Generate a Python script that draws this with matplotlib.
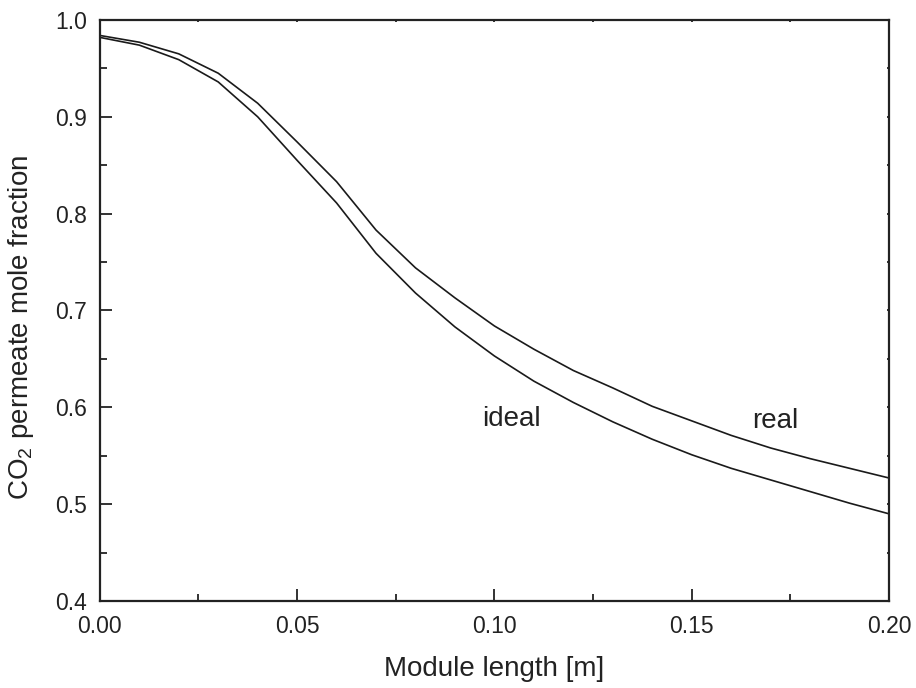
import numpy as np
import matplotlib
matplotlib.use('Agg')
import matplotlib.pyplot as plt
from matplotlib.ticker import MultipleLocator, FormatStrFormatter

plt.rcParams['font.family'] = ['Liberation Sans', 'DejaVu Sans']
plt.rcParams['mathtext.fontset'] = 'custom'
plt.rcParams['mathtext.rm'] = 'Liberation Sans'
plt.rcParams['mathtext.it'] = 'Liberation Sans:italic'

# module length [m]
length = [0.00, 0.01, 0.02, 0.03, 0.04, 0.05, 0.06, 0.07, 0.08, 0.09, 0.10,
          0.11, 0.12, 0.13, 0.14, 0.15, 0.16, 0.17, 0.18, 0.19, 0.20]
# CO2 permeate mole fraction
real = [0.984, 0.977, 0.965, 0.945, 0.914, 0.874, 0.833, 0.783, 0.744, 0.713, 0.684,
        0.660, 0.638, 0.620, 0.601, 0.586, 0.571, 0.558, 0.547, 0.537, 0.527]
ideal = [0.982, 0.974, 0.959, 0.936, 0.900, 0.855, 0.811, 0.759, 0.718, 0.683, 0.653,
         0.627, 0.605, 0.585, 0.567, 0.551, 0.537, 0.525, 0.513, 0.501, 0.490]

fig = plt.figure(figsize=(9.16, 6.88), dpi=100)
ax = fig.add_axes([0.109, 0.1265, 0.8615, 0.8445])

ax.plot(length, real, color='#1a1a1a', lw=1.2)
ax.plot(length, ideal, color='#1a1a1a', lw=1.2)

ax.text(0.0969, 0.581, 'ideal', fontsize=20, ha='left', va='baseline', color='#222222')
ax.text(0.1654, 0.579, 'real', fontsize=20, ha='left', va='baseline', color='#222222')

ax.set_xlim(0, 0.20)
ax.set_ylim(0.4, 1.0)
ax.xaxis.set_major_locator(MultipleLocator(0.05))
ax.xaxis.set_minor_locator(MultipleLocator(0.025))
ax.yaxis.set_major_locator(MultipleLocator(0.1))
ax.yaxis.set_minor_locator(MultipleLocator(0.05))
ax.xaxis.set_major_formatter(FormatStrFormatter('%.2f'))
ax.yaxis.set_major_formatter(FormatStrFormatter('%.1f'))

ax.tick_params(which='major', direction='in', length=8.5, width=1.3,
               labelsize=16.5, colors='#222222')
ax.tick_params(which='minor', direction='in', length=5, width=1.3, colors='#222222')
ax.tick_params(axis='x', which='major', pad=10)
ax.tick_params(axis='y', which='major', pad=9)
ax.tick_params(which='both', top=True, right=True)
for t in ax.xaxis.get_major_ticks() + ax.xaxis.get_minor_ticks():
    t.tick2line.set_markersize(1.5)
for t in ax.yaxis.get_major_ticks() + ax.yaxis.get_minor_ticks():
    t.tick2line.set_markersize(1.5)

for s in ax.spines.values():
    s.set_linewidth(1.6)
    s.set_color('#222222')

ax.set_xlabel('Module length [m]', fontsize=20, color='#222222')
ax.set_ylabel(r'CO$_2$ permeate mole fraction', fontsize=20, color='#222222')
ax.xaxis.set_label_coords(0.5, -0.095)
ax.yaxis.set_label_coords(-0.081, 0.47)

fig.savefig('out.png', dpi=100)
